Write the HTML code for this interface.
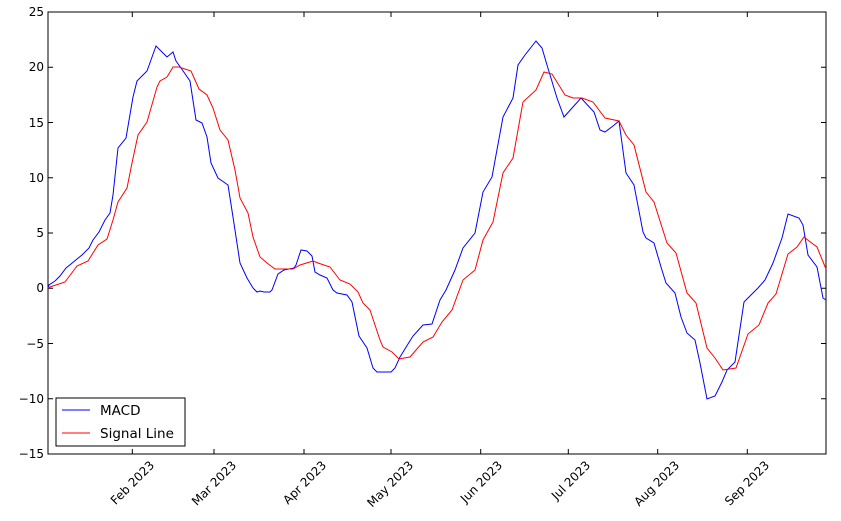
<!DOCTYPE html>
<html><head><meta charset="utf-8"><style>body{margin:0;background:#fff}svg{display:block}text{font-family:"DejaVu Sans",sans-serif;font-size:12px;fill:#000}</style></head><body>
<svg width="841" height="521" viewBox="0 0 841 521">
<rect x="48" y="12" width="778" height="442" fill="none" stroke="#000" stroke-width="1"/>
<g stroke="#000" stroke-width="1">
<path d="M48 454h5M48 398.7h5M48 343.5h5M48 288.2h5M48 233h5M48 177.7h5M48 122.5h5M48 67.2h5M48 12h5"/>
<path d="M826 454h-5M826 398.7h-5M826 343.5h-5M826 288.2h-5M826 233h-5M826 177.7h-5M826 122.5h-5M826 67.2h-5M826 12h-5"/>
<path d="M132.3 454v-5M214 454v-5M304 454v-5M391 454v-5M480.7 454v-5M568.3 454v-5M657.7 454v-5M747.3 454v-5"/>
<path d="M132.3 12v5M214 12v5M304 12v5M391 12v5M480.7 12v5M568.3 12v5M657.7 12v5M747.3 12v5"/>
</g>
<g text-anchor="end">
<text x="44" y="458">−15</text><text x="44" y="403">−10</text><text x="44" y="348">−5</text><text x="44" y="292">0</text><text x="44" y="237">5</text><text x="44" y="182">10</text><text x="44" y="127">15</text><text x="44" y="71">20</text><text x="44" y="16">25</text>
</g>
<g text-anchor="end">
<text transform="translate(155,466) rotate(-45)">Feb 2023</text>
<text transform="translate(237,466) rotate(-45)">Mar 2023</text>
<text transform="translate(327,466) rotate(-45)">Apr 2023</text>
<text transform="translate(414,466) rotate(-45)">May 2023</text>
<text transform="translate(503,466) rotate(-45)">Jun 2023</text>
<text transform="translate(591,466) rotate(-45)">Jul 2023</text>
<text transform="translate(680,466) rotate(-45)">Aug 2023</text>
<text transform="translate(770,466) rotate(-45)">Sep 2023</text>
</g>
<polyline fill="none" stroke="#0000ff" stroke-width="1" points="48,288 49,285 55,281 60,276 66,268 71,264 77,259 82,255 89,248 93,240 99,232 105,220 110,213 113,195 118,148 126,138 133,97 137,81 147,71 156,46 162,52 167,57 173,52 176,61 181,68 190,81 196,120 202,123 207,137 211,163 218,178 228,185 233,217 240,263 247,278 253,288 257,292 260,291 264,292 270,292 272,290 278,274 284,270 289,269 294,268 296,265 301,250 307,251 312,256 315,272 320,275 327,278 333,290 337,293 347,295 352,302 359,336 367,348 373,368 377,372 380,372 391,372 395,368 400,357 408,344 413,336 423,325 432,324 440,300 446,290 455,270 463,248 475,233 483,192 492,177 503,117 513,98 518,65 525,55 536,41 542,48 547,65 557,98 564,117 573,107 581,98 594,112 600,130 605,132 613,126 619,121 626,173 634,185 643,232 646,238 654,243 661,267 666,283 675,293 681,317 687,333 695,340 700,363 707,399 715,396 722,382 727,370 735,362 744,302 758,288 765,280 773,263 782,238 788,214 799,218 803,225 808,255 817,267 823,298 826,300"/>
<polyline fill="none" stroke="#ff0000" stroke-width="1" points="48,288 50,287 65,282 77,266 88,261 98,245 107,239 113,220 118,202 127,188 132,163 138,135 147,122 157,87 160,81 167,77 173,67 179,67 191,71 199,89 207,95 213,108 220,130 228,140 235,170 240,198 248,213 253,237 260,257 267,263 275,269 287,269 293,269 300,265 313,261 318,263 330,267 340,280 350,284 358,292 363,303 370,310 380,340 383,347 392,352 399,359 410,357 423,342 433,337 442,322 452,310 463,280 475,270 483,240 493,222 503,173 513,158 523,102 536,90 544,72 552,74 565,95 573,98 582,98 593,102 605,118 619,121 626,135 634,145 646,192 654,202 667,243 676,253 687,293 696,303 707,348 715,358 723,370 736,368 748,334 759,325 768,303 776,294 788,254 797,247 804,237 809,241 817,247 826,269"/>
<rect x="56" y="398" width="129" height="48" fill="#fff" stroke="#000" stroke-width="1"/>
<line x1="62" y1="410" x2="90" y2="410" stroke="#0000ff"/>
<line x1="62" y1="433" x2="90" y2="433" stroke="#ff0000"/>
<text x="100" y="415" style="font-size:13.5px">MACD</text>
<text x="100" y="438" style="font-size:13.5px">Signal Line</text>
</svg>
</body></html>
